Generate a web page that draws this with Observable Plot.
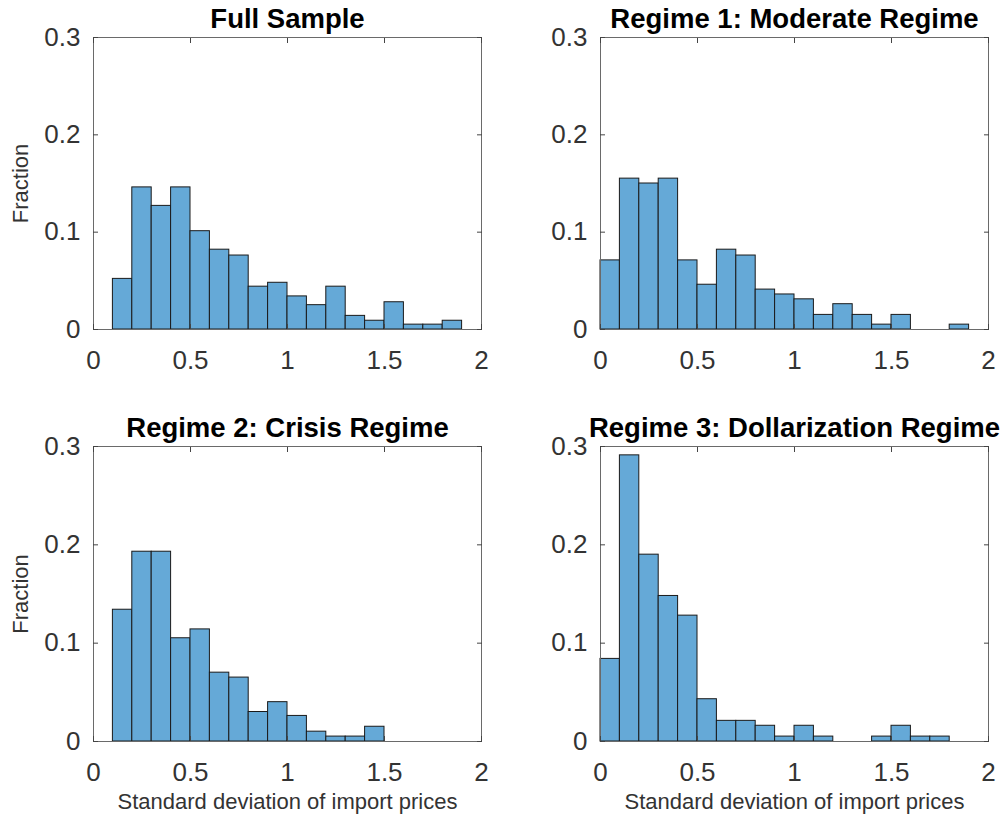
<!DOCTYPE html>
<html>
<head>
<meta charset="utf-8">
<script src="https://cdn.jsdelivr.net/npm/d3@7"></script>
<script src="https://cdn.jsdelivr.net/npm/@observablehq/plot@0.6"></script>
<style>
  html, body { margin: 0; padding: 0; background: #fff; }
  #root { position: relative; width: 1004px; height: 821px; overflow: hidden; font-family: "Liberation Sans", Arial, sans-serif; }
  .panel { position: absolute; }
</style>
</head>
<body>
<div id="root"></div>
<script>
// ---- Data (fractions per bin, bin width 0.1) ----
const binWidth = 0.1;
const xTicks = [0, 0.5, 1, 1.5, 2];
const yTicks = [0, 0.1, 0.2, 0.3];
const xLabel = "Standard deviation of import prices";
const yLabel = "Fraction";

const titleFull = "Full Sample";
const startFull = 0.1;
const fracFull = [0.052, 0.146, 0.127, 0.146, 0.101, 0.082, 0.076, 0.044, 0.048, 0.034, 0.025, 0.044, 0.014, 0.009, 0.028, 0.005, 0.005, 0.009];

const titleR1 = "Regime 1: Moderate Regime";
const startR1 = 0;
const fracR1 = [0.071, 0.155, 0.150, 0.155, 0.071, 0.046, 0.082, 0.076, 0.041, 0.036, 0.031, 0.015, 0.026, 0.015, 0.005, 0.015, 0, 0, 0.005];

const titleR2 = "Regime 2: Crisis Regime";
const startR2 = 0.1;
const fracR2 = [0.134, 0.193, 0.193, 0.105, 0.114, 0.070, 0.065, 0.030, 0.040, 0.026, 0.010, 0.005, 0.005, 0.015];

const titleR3 = "Regime 3: Dollarization Regime";
const startR3 = 0;
const fracR3 = [0.084, 0.291, 0.190, 0.148, 0.128, 0.043, 0.021, 0.021, 0.016, 0.005, 0.016, 0.005, 0, 0, 0.005, 0.016, 0.005, 0.005];

// ---- Rendering ----
const fmt = d => String(d);
const root = document.getElementById("root");

function makePanel({title, start, fracs, left, top, h, showY, showX}) {
  const rows = fracs.map((f, i) => ({
    x1: +(start + i * binWidth).toFixed(3),
    x2: +(start + (i + 1) * binWidth).toFixed(3),
    y: f
  }));
  const mL = 93, mR = 16, mT = 37, mB = 80;
  const marks = [
    Plot.rectY(rows, {x1: "x1", x2: "x2", y: "y", fill: "#65a9d7", stroke: "#1a1a1a", strokeWidth: 1}),
    Plot.frame({stroke: "#6a6a6a", strokeWidth: 1}),
    Plot.axisX({anchor: "bottom", ticks: xTicks, tickSize: -5, tickPadding: 26, tickFormat: fmt, label: null, fontSize: 26, fill: "#333", stroke: "#444"}),
    Plot.axisX({anchor: "top", ticks: xTicks, tickSize: -5, tickFormat: () => "", label: null, stroke: "#444"}),
    Plot.axisY({anchor: "left", ticks: yTicks, tickSize: -5, tickPadding: 18, tickFormat: fmt, label: null, fontSize: 26, fill: "#333", stroke: "#444"}),
    Plot.axisY({anchor: "right", ticks: yTicks, tickSize: -5, tickFormat: () => "", label: null, stroke: "#444"}),
    Plot.text([title], {frameAnchor: "top", dy: -10, lineAnchor: "bottom", fontWeight: "bold", fontSize: 27.5, fill: "#000"})
  ];
  if (showY) marks.push(Plot.text([yLabel], {frameAnchor: "left", dx: -73, rotate: -90, textAnchor: "middle", fontSize: 22, fill: "#333"}));
  if (showX) marks.push(Plot.text([xLabel], {frameAnchor: "bottom", dy: 67, fontSize: 22, fill: "#333"}));
  const chart = Plot.plot({
    width: mL + 388 + mR,
    height: mT + h + mB,
    marginLeft: mL, marginRight: mR, marginTop: mT, marginBottom: mB,
    x: {domain: [0, 2]},
    y: {domain: [0, 0.3]},
    style: {fontFamily: '"Liberation Sans", Arial, sans-serif', background: "transparent", overflow: "visible", color: "#333"},
    marks
  });
  const div = document.createElement("div");
  div.className = "panel";
  div.style.left = (left - mL) + "px";
  div.style.top = (top - mT) + "px";
  div.appendChild(chart);
  root.appendChild(div);
}

makePanel({title: titleFull, start: startFull, fracs: fracFull, left: 93, top: 37, h: 292, showY: true, showX: false});
makePanel({title: titleR1, start: startR1, fracs: fracR1, left: 600, top: 37, h: 292, showY: false, showX: false});
makePanel({title: titleR2, start: startR2, fracs: fracR2, left: 93, top: 446, h: 295, showY: true, showX: true});
makePanel({title: titleR3, start: startR3, fracs: fracR3, left: 600, top: 446, h: 295, showY: false, showX: true});
</script>
</body>
</html>
